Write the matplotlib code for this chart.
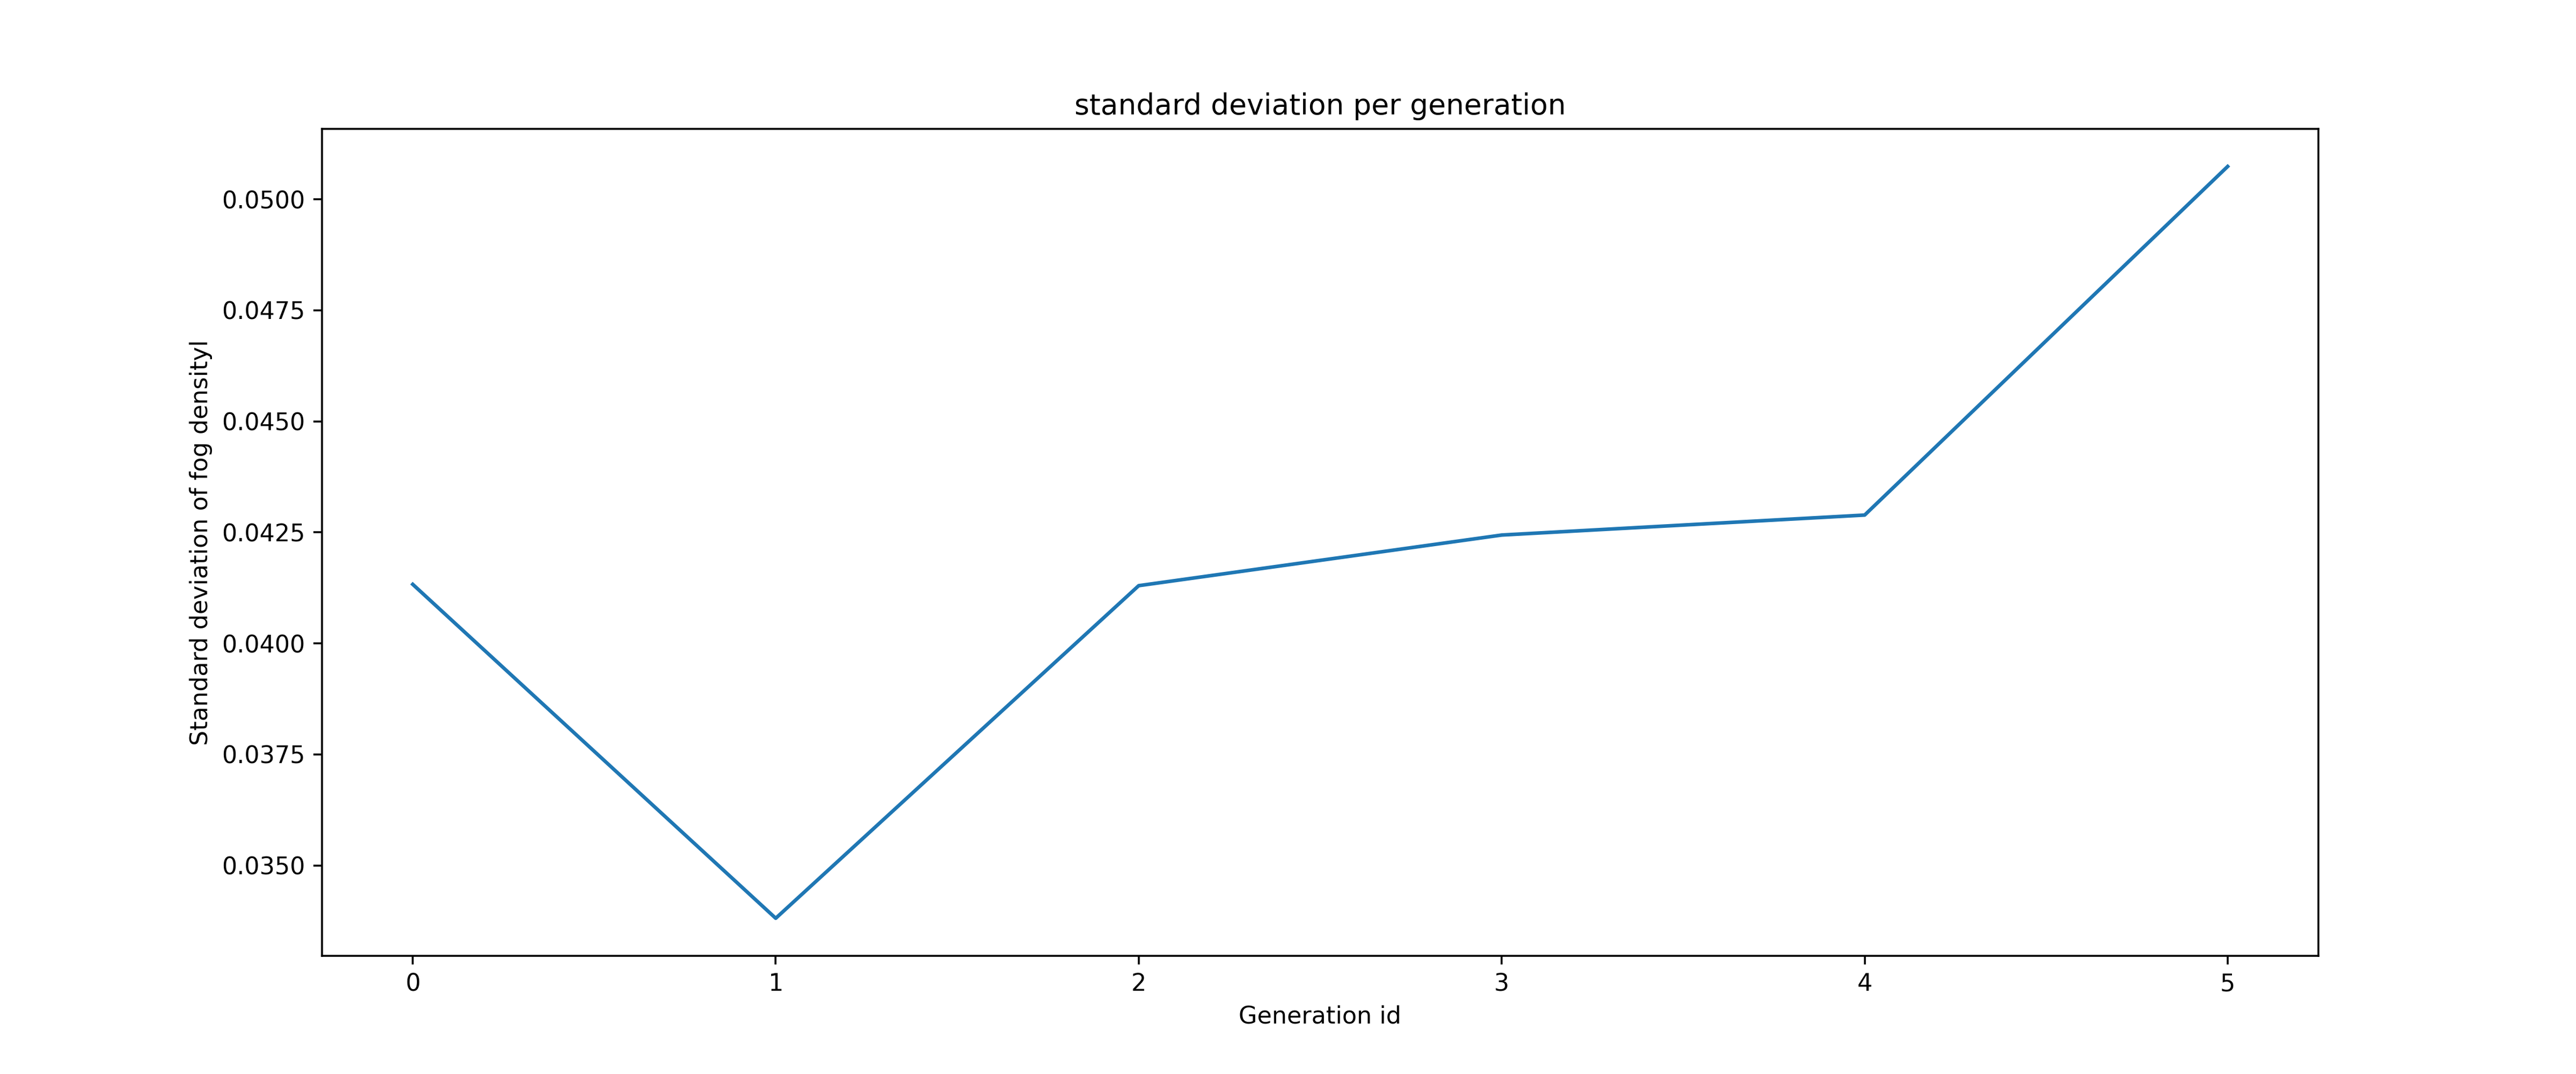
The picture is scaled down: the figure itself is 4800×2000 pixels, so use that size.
import matplotlib
matplotlib.use("Agg")
import matplotlib.pyplot as plt

generations = [0, 1, 2, 3, 4, 5]
std_values = [0.04133, 0.03381, 0.04130, 0.04244, 0.04289, 0.05074]

fig, ax = plt.subplots(figsize=(15, 6.25), dpi=320)
ax.plot(generations, std_values)
ax.set_title("standard deviation per generation")
ax.set_xlabel("Generation id")
ax.set_ylabel("Standard deviation of fog densityl")
fig.savefig("out.png")
